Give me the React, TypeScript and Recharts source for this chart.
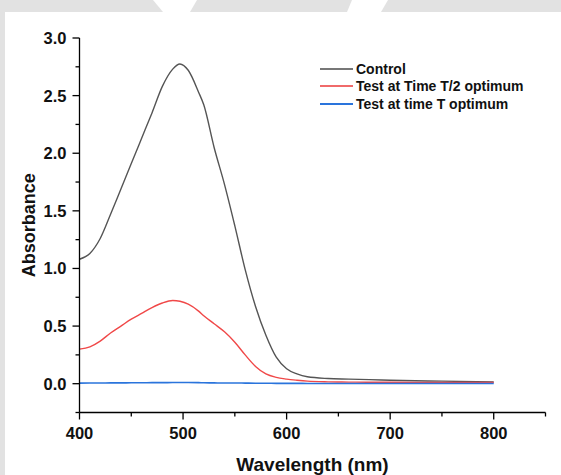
import React from "react";
import { LineChart, Line, XAxis, YAxis, Legend } from "recharts";

const wavelengths = [400, 410, 420, 430, 440, 450, 460, 470, 480, 490, 497, 505, 515, 520, 530, 540, 550, 560, 570, 580, 590, 600, 610, 620, 640, 660, 680, 700, 750, 800];
const controlAbs = [1.08, 1.13, 1.26, 1.47, 1.69, 1.91, 2.13, 2.35, 2.58, 2.73, 2.775, 2.72, 2.53, 2.42, 2.05, 1.73, 1.37, 0.99, 0.67, 0.42, 0.23, 0.13, 0.085, 0.06, 0.045, 0.04, 0.035, 0.03, 0.022, 0.015];
const halfTimeAbs = [0.30, 0.32, 0.37, 0.44, 0.50, 0.56, 0.61, 0.66, 0.70, 0.722, 0.715, 0.69, 0.63, 0.59, 0.52, 0.45, 0.36, 0.25, 0.15, 0.085, 0.055, 0.04, 0.03, 0.022, 0.016, 0.014, 0.012, 0.012, 0.01, 0.01];
const fullTimeAbs = [0.005, 0.006, 0.006, 0.007, 0.007, 0.008, 0.008, 0.009, 0.009, 0.01, 0.01, 0.01, 0.009, 0.008, 0.007, 0.006, 0.006, 0.005, 0.004, 0.004, 0.003, 0.003, 0.003, 0.002, 0.002, 0.002, 0.002, 0.002, 0.002, 0.002];

const seriesNames = ["Control", "Test at Time T/2 optimum", "Test at time T optimum"];
const seriesColors = ["#555555", "#f04848", "#2a74dc"];
const legendColors = ["#777777", "#f06a6a", "#2a74dc"];

const xTicks = [400, 450, 500, 550, 600, 650, 700, 750, 800, 850];
const xLabeled = [400, 500, 600, 700, 800];
const yTicks = [-0.25, 0, 0.25, 0.5, 0.75, 1, 1.25, 1.5, 1.75, 2, 2.25, 2.5, 2.75, 3];
const yLabeled = [0, 0.5, 1, 1.5, 2, 2.5, 3];

const data = wavelengths.map((w, i) => ({
  w,
  control: controlAbs[i],
  half: halfTimeAbs[i],
  full: fullTimeAbs[i],
}));

const FONT = "'Liberation Sans', Arial, sans-serif";

const XTick = (props: any) => {
  const { x, y, payload } = props;
  const v = payload.value;
  const major = xLabeled.includes(v);
  return (
    <g>
      <line x1={x} x2={x} y1={y} y2={y + (major ? 7 : 4)} stroke="#000" strokeWidth={1.3} />
      {major && (
        <text x={x} y={y + 26} textAnchor="middle" fontFamily={FONT} fontWeight="bold" fontSize={16.5} fill="#111">
          {v}
        </text>
      )}
    </g>
  );
};

const YTick = (props: any) => {
  const { x, y, payload } = props;
  const v = payload.value;
  const major = yLabeled.some((m) => Math.abs(m - v) < 1e-6);
  return (
    <g>
      <line x1={x} x2={x - (major ? 7 : 4)} y1={y} y2={y} stroke="#000" strokeWidth={1.3} />
      {major && (
        <text x={x - 13} y={y + 6} textAnchor="end" fontFamily={FONT} fontWeight="bold" fontSize={16.5} fill="#111">
          {v.toFixed(1)}
        </text>
      )}
    </g>
  );
};

const LegendContent = () => (
  <div style={{ fontFamily: FONT, fontWeight: "bold", fontSize: 14, color: "#111" }}>
    {seriesNames.map((n, i) => (
      <div key={n} style={{ display: "flex", alignItems: "center", height: 17.5 }}>
        <svg width={33} height={4} style={{ marginRight: 3 }}>
          <line x1={0} x2={33} y1={2} y2={2} stroke={legendColors[i]} strokeWidth={2} />
        </svg>
        <span>{n}</span>
      </div>
    ))}
  </div>
);

export default function App() {
  return (
    <div style={{ position: "absolute", left: 0, top: 0, width: 561, height: 475, background: "#e2e2e2", overflow: "hidden" }}>
      <svg width={561} height={12} style={{ position: "absolute", left: 0, top: 0 }}>
        <polygon points="153,0 197,0 190,12 163,12" fill="#ffffff" />
        <polygon points="352,0 388,0 381,12 347,12" fill="#ffffff" />
      </svg>
      <div style={{ position: "absolute", left: 5, top: 12, width: 556, height: 463, background: "#ffffff" }} />
      <div style={{ position: "absolute", left: 0, top: 0 }}>
        <LineChart width={561} height={475} data={data} margin={{ top: 38, right: 15.5, bottom: 0, left: 0 }}>
          <XAxis
            dataKey="w"
            type="number"
            domain={[400, 850]}
            ticks={xTicks}
            interval={0}
            height={62.5}
            tickSize={0}
            tickMargin={0}
            tick={<XTick />}
            axisLine={{ stroke: "#000", strokeWidth: 1.3 }}
            tickLine={false}
            label={{ value: "Wavelength (nm)", position: "insideBottom", offset: 4, style: { fontFamily: FONT, fontWeight: "bold", fontSize: 19, fill: "#111" } }}
          />
          <YAxis
            type="number"
            domain={[-0.25, 3]}
            ticks={yTicks}
            interval={0}
            width={79.5}
            tickSize={0}
            tickMargin={0}
            tick={<YTick />}
            axisLine={{ stroke: "#000", strokeWidth: 1.3 }}
            tickLine={false}
            allowDataOverflow
            label={{ value: "Absorbance", angle: -90, position: "insideLeft", offset: 29, style: { fontFamily: FONT, fontWeight: "bold", fontSize: 18, fill: "#111", textAnchor: "middle" } }}
          />
          <Legend
            layout="horizontal"
            verticalAlign="middle"
            align="center"
            content={<LegendContent />}
            wrapperStyle={{ position: "absolute", top: 60, left: 320, width: 235 }}
          />
          <Line type="monotone" dataKey="control" name={seriesNames[0]} stroke={seriesColors[0]} strokeWidth={1.4} dot={false} isAnimationActive={false} />
          <Line type="monotone" dataKey="half" name={seriesNames[1]} stroke={seriesColors[1]} strokeWidth={1.4} dot={false} isAnimationActive={false} />
          <Line type="monotone" dataKey="full" name={seriesNames[2]} stroke={seriesColors[2]} strokeWidth={1.6} dot={false} isAnimationActive={false} />
        </LineChart>
      </div>
    </div>
  );
}
